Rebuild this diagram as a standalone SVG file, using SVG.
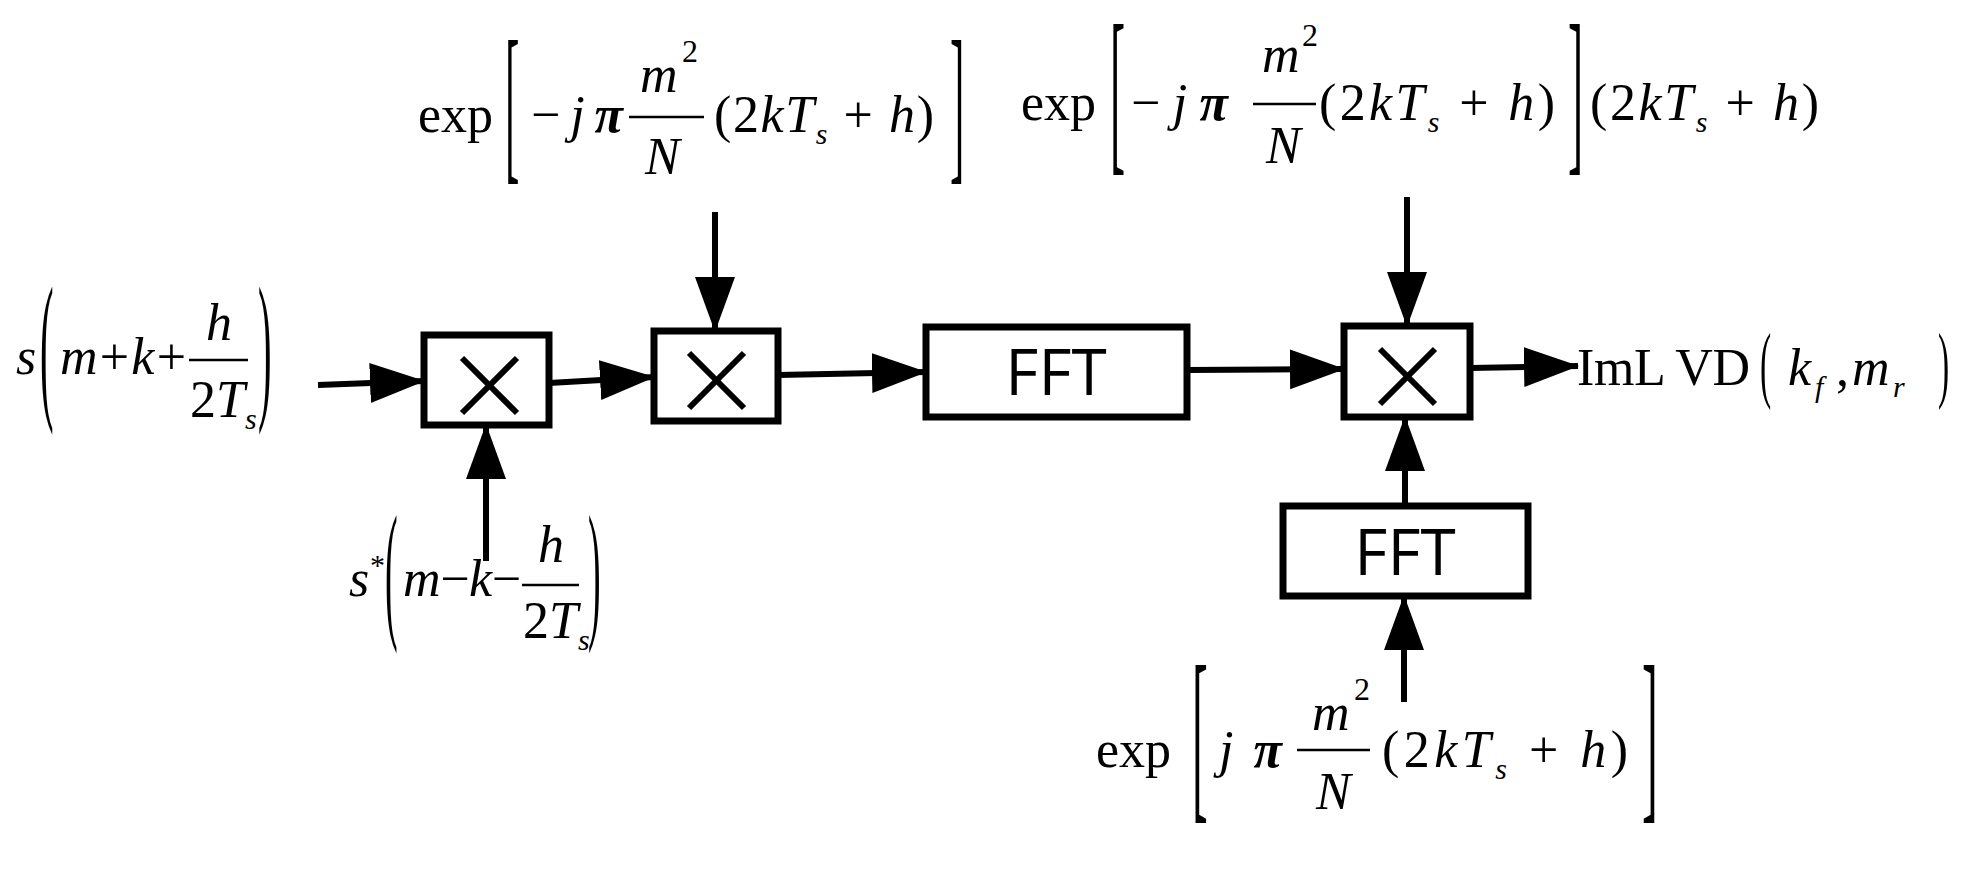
<svg xmlns="http://www.w3.org/2000/svg" width="1972" height="874" viewBox="0 0 1972 874">
<style>
.t{font-family:"Liberation Serif",serif;font-size:52px;fill:#000}
.i{font-style:italic}
.sub{font-size:30px;font-style:italic}
.sup{font-size:32px}
.box{fill:#fff;stroke:#000;stroke-width:7}
.x{stroke:#000;stroke-width:6}
.fft{font-family:"Open Sans","DejaVu Sans",sans-serif;font-size:64px;text-anchor:middle}
.bar{stroke:#000;stroke-width:2.5}
.c{stroke:#000;stroke-width:6;fill:none;marker-end:url(#ah)}
</style>
<defs>
<marker id="ah" markerUnits="userSpaceOnUse" markerWidth="56" markerHeight="42" refX="54" refY="20" orient="auto">
<path d="M0,0 L55,20 L0,40 z" fill="#000"/>
</marker>
</defs>
<rect width="1972" height="874" fill="#fff"/>
<g id="connectors">
<line class="c" x1="318" y1="385" x2="424" y2="381"/>
<line class="c" x1="549" y1="383" x2="654" y2="377"/>
<line class="c" x1="778" y1="375" x2="926" y2="372"/>
<line class="c" x1="1187" y1="370" x2="1344" y2="369"/>
<line class="c" x1="1470" y1="368" x2="1578" y2="366"/>
<line class="c" x1="715" y1="212" x2="715" y2="331"/>
<line class="c" x1="486" y1="561" x2="486" y2="425"/>
<line class="c" x1="1407" y1="197" x2="1407" y2="326"/>
<line class="c" x1="1405" y1="506" x2="1405" y2="417"/>
<line class="c" x1="1404" y1="702" x2="1404" y2="596"/>
</g>
<g id="mul1"><rect class="box" x="424" y="335" width="125" height="90"/><line class="x" x1="462" y1="358" x2="517" y2="413"/><line class="x" x1="517" y1="358" x2="462" y2="413"/></g>
<g id="mul2"><rect class="box" x="654" y="331" width="124" height="90"/><line class="x" x1="689" y1="353" x2="744" y2="408"/><line class="x" x1="744" y1="353" x2="689" y2="408"/></g>
<g id="fft1"><rect class="box" x="926" y="327" width="261" height="90"/><text class="fft" x="1056" y="395">FFT</text></g>
<g id="mul3"><rect class="box" x="1344" y="326" width="126" height="91"/><line class="x" x1="1380" y1="349" x2="1435" y2="404"/><line class="x" x1="1435" y1="349" x2="1380" y2="404"/></g>
<g id="fft2"><rect class="box" x="1283" y="506" width="245" height="90"/><text class="fft" x="1405" y="575">FFT</text></g>

<g id="label-input">
<text class="t i" x="16" y="374">s</text>
<text class="t" style="font-size:163px" transform="translate(40,400) scale(0.25,1)">(</text>
<text class="t i" x="60" y="374" textLength="126" lengthAdjust="spacing">m<tspan font-style="normal">+</tspan>k<tspan font-style="normal">+</tspan></text>
<line class="bar" x1="189" y1="360" x2="248" y2="360"/>
<text class="t i" x="206" y="340">h</text>
<text class="t" x="190" y="417">2<tspan class="i">T</tspan><tspan class="sub" dy="12">s</tspan></text>
<text class="t" style="font-size:163px" transform="translate(258,400) scale(0.25,1)">)</text>
</g>

<g id="label-sconj">
<text class="t i" x="349" y="596">s</text>
<text class="t" style="font-size:30px" x="370" y="575">*</text>
<text class="t" style="font-size:152px" transform="translate(385,621) scale(0.25,1)">(</text>
<text class="t i" x="403" y="596" textLength="118" lengthAdjust="spacing">m<tspan font-style="normal">−</tspan>k<tspan font-style="normal">−</tspan></text>
<line class="bar" x1="522" y1="585" x2="579" y2="585"/>
<text class="t i" x="538" y="562">h</text>
<text class="t" x="523" y="638">2<tspan class="i">T</tspan><tspan class="sub" dy="12">s</tspan></text>
<text class="t" style="font-size:152px" transform="translate(588,621) scale(0.25,1)">)</text>
</g>

<g id="label-top1">
<text class="t" x="418" y="132">exp</text>
<text class="t" style="font-size:173px" transform="translate(505,161) scale(0.25,1)">[</text>
<text class="t" x="531" y="132" textLength="92" lengthAdjust="spacing">−<tspan class="i">j</tspan><tspan class="i" font-weight="bold">π</tspan></text>
<text class="t i" x="640" y="92">m</text><text class="t sup" x="682" y="62">2</text>
<line class="bar" x1="629" y1="117" x2="704" y2="117"/>
<text class="t i" x="645" y="174">N</text>
<text class="t" x="714" y="132" textLength="220" lengthAdjust="spacing">(2<tspan class="i">kT</tspan><tspan class="sub" dy="12">s</tspan><tspan dy="-12"> + </tspan><tspan class="i">h</tspan>)</text>
<text class="t" style="font-size:173px" transform="translate(950,161) scale(0.25,1)">]</text>
</g>

<g id="label-top2">
<text class="t" x="1021" y="120">exp</text>
<text class="t" style="font-size:182px" transform="translate(1110,151) scale(0.25,1)">[</text>
<text class="t" x="1131" y="120" textLength="97" lengthAdjust="spacing">−<tspan class="i">j</tspan><tspan class="i" font-weight="bold">π</tspan></text>
<text class="t i" x="1262" y="72">m</text><text class="t sup" x="1302" y="46">2</text>
<line class="bar" x1="1253" y1="104" x2="1316" y2="104"/>
<text class="t i" x="1266" y="163">N</text>
<text class="t" x="1319" y="120" textLength="236" lengthAdjust="spacing">(2<tspan class="i">kT</tspan><tspan class="sub" dy="12">s</tspan><tspan dy="-12"> + </tspan><tspan class="i">h</tspan>)</text>
<text class="t" style="font-size:182px" transform="translate(1568,151) scale(0.25,1)">]</text>
<text class="t" x="1590" y="120" textLength="229" lengthAdjust="spacing">(2<tspan class="i">kT</tspan><tspan class="sub" dy="12">s</tspan><tspan dy="-12"> + </tspan><tspan class="i">h</tspan>)</text>
</g>

<g id="label-bottom">
<text class="t" x="1096" y="767">exp</text>
<text class="t" style="font-size:190px" transform="translate(1192,797) scale(0.25,1)">[</text>
<text class="t" x="1219" y="767" textLength="63" lengthAdjust="spacing"><tspan class="i">j</tspan><tspan class="i" font-weight="bold">π</tspan></text>
<text class="t i" x="1312" y="730">m</text><text class="t sup" x="1354" y="700">2</text>
<line class="bar" x1="1297" y1="750" x2="1370" y2="750"/>
<text class="t i" x="1316" y="809">N</text>
<text class="t" x="1382" y="767" textLength="246" lengthAdjust="spacing">(2<tspan class="i">kT</tspan><tspan class="sub" dy="12">s</tspan><tspan dy="-12"> + </tspan><tspan class="i">h</tspan>)</text>
<text class="t" style="font-size:190px" transform="translate(1642,797) scale(0.25,1)">]</text>
</g>

<g id="label-output">
<text class="t" x="1577" y="385" textLength="173" lengthAdjust="spacing">ImL VD</text>
<text class="t" style="font-size:84px" transform="translate(1760,392) scale(0.4,1)">(</text>
<text class="t i" x="1788" y="385">k</text><text class="sub" font-family="Liberation Serif" x="1815" y="397">f</text>
<text class="t" x="1836" y="385">,</text>
<text class="t i" x="1852" y="385">m</text><text class="sub" font-family="Liberation Serif" x="1893" y="397">r</text>
<text class="t" style="font-size:84px" transform="translate(1938,392) scale(0.4,1)">)</text>
</g>
</svg>
